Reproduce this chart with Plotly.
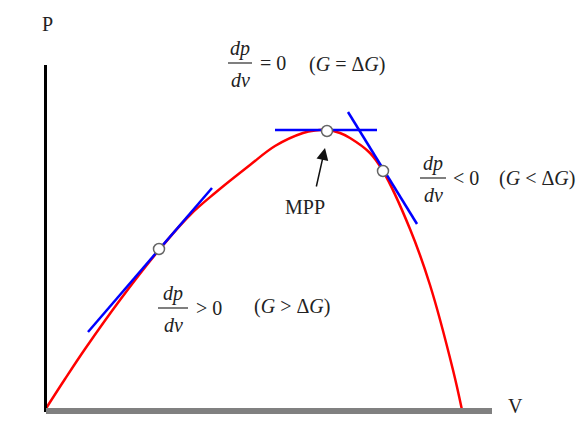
import plotly.graph_objects as go

# P-V characteristic of a PV module (V measured from the origin, P upward)
v_curve = [0, 20, 40, 75, 114, 145, 170, 205, 230, 258, 270, 282, 295, 305, 325, 338, 365, 385, 408, 417]
p_curve = [0, 31, 61, 110, 160, 195, 217, 245, 264, 277, 279.5, 280, 277, 272, 257, 239, 181, 125, 40, 0]

# operating points where the slope dP/dV is examined
op_v = [114, 282, 338]
op_p = [161, 279, 239]

# tangent segments through each operating point
tangent_v = [[43, 167], [230, 332], [303, 372]]
tangent_p = [[78, 222], [280, 280], [298, 186]]

# axis extents
v_axis_end = 447
p_axis_end = 345

FONT = "Liberation Serif"
TXT = "#222222"

fig = go.Figure()

fig.add_trace(go.Scatter(
    x=v_curve, y=p_curve, mode="lines",
    line=dict(color="#ff0000", width=2.5, shape="spline", smoothing=1.0),
    hoverinfo="skip", showlegend=False))

for tv, tp in zip(tangent_v, tangent_p):
    fig.add_trace(go.Scatter(
        x=tv, y=tp, mode="lines",
        line=dict(color="#0000ff", width=2.5),
        hoverinfo="skip", showlegend=False))

fig.add_trace(go.Scatter(
    x=op_v, y=op_p, mode="markers",
    marker=dict(symbol="circle", size=11, color="white",
                line=dict(color="#666666", width=1.5)),
    hoverinfo="skip", showlegend=False))

# axes: black P axis, thick grey V axis
fig.add_shape(type="line", x0=0.5, x1=0.5, y0=-2, y1=p_axis_end,
              line=dict(color="black", width=3))
fig.add_shape(type="line", x0=1, x1=v_axis_end, y0=-1, y1=-1,
              line=dict(color="#808080", width=6))


def label(x, y, text, size=20, xanchor="center"):
    fig.add_annotation(x=x, y=y, text=text, showarrow=False,
                       xanchor=xanchor, yanchor="middle",
                       font=dict(family=FONT, size=size, color=TXT))


def fraction(x, y, half):
    # dp/dv written as a stacked fraction
    label(x, y + 15, "<i>dp</i>")
    label(x, y - 17, "<i>dv</i>")
    fig.add_shape(type="line", x0=x - half, x1=x + half, y0=y, y1=y,
                  line=dict(color="#555555", width=1.5))


label(2, 386, "P")
label(470, 4, "V")

# dP/dV = 0 at the maximum power point
fraction(195, 347, 12)
label(228, 347, "= 0")
label(302, 346, "(<i>G</i> = Δ<i>G</i>)")

# dP/dV < 0 to the right of the MPP
fraction(388, 232, 13)
label(421, 232, "&lt; 0")
label(452, 232, "(<i>G</i> &lt; Δ<i>G</i>)", xanchor="left")

# dP/dV > 0 to the left of the MPP
fraction(128, 102, 15)
label(164, 102, "&gt; 0")
label(247, 104, "(<i>G</i> &gt; Δ<i>G</i>)")

label(260, 203, "MPP")
fig.add_annotation(x=280, y=262, ax=271, ay=222, axref="x", ayref="y",
                   xref="x", yref="y", text="", showarrow=True,
                   arrowhead=2, arrowsize=1.6, arrowwidth=1.5,
                   arrowcolor="#111111")

fig.update_layout(
    width=581, height=437,
    margin=dict(l=0, r=0, t=0, b=0),
    paper_bgcolor="white", plot_bgcolor="white",
    xaxis=dict(range=[-45, 536], visible=False, fixedrange=True),
    yaxis=dict(range=[-27, 410], visible=False, fixedrange=True),
)

fig.write_html("out.html")
